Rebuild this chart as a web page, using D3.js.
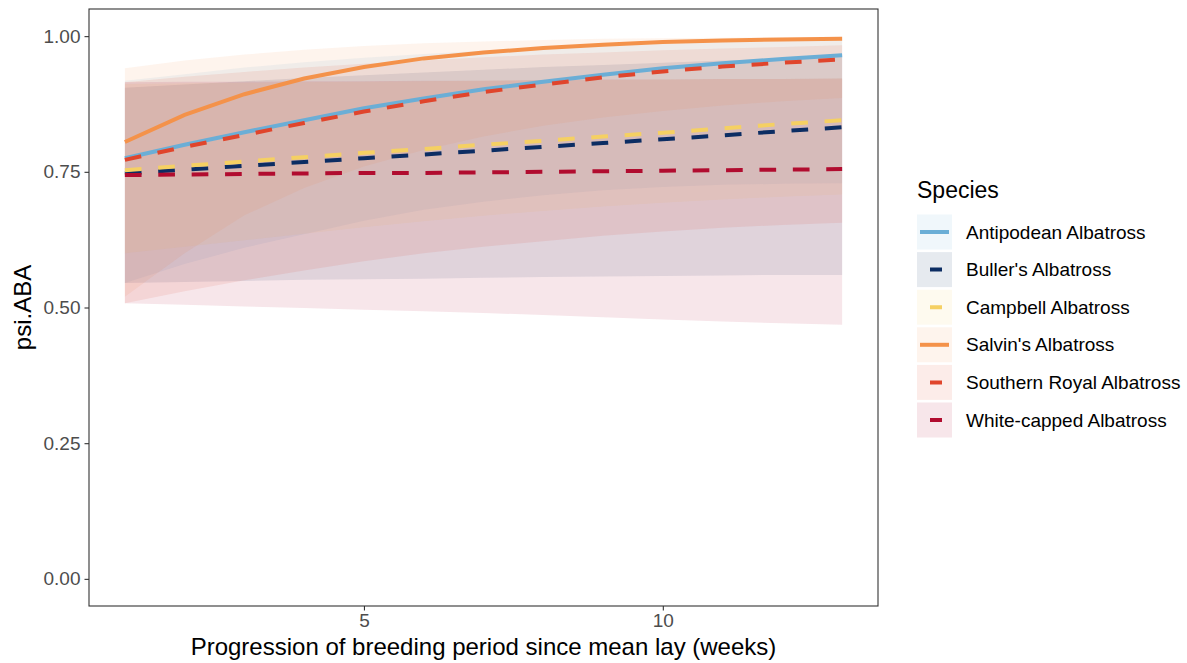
<!DOCTYPE html>
<html>
<head>
<meta charset="utf-8">
<script src="https://d3js.org/d3.v7.min.js"></script>
<style>
  body { margin: 0; background: #fff; }
  text { font-family: "Liberation Sans", Arial, sans-serif; }
  .axis path { display: none; }
  .axis line { stroke: #333; stroke-width: 1.1; }
  .axis text { fill: #4d4d4d; font-size: 19px; }
</style>
</head>
<body>
<div id="chart"></div>
<script>
const width = 1187, height = 663;
const panel = {left: 89, right: 878, top: 9, bottom: 606};

// weeks since mean lay
const weeks = [1, 2, 3, 4, 5, 6, 7, 8, 9, 10, 11, 12, 13];
const species = ["Antipodean Albatross", "Buller's Albatross", "Campbell Albatross",
                 "Salvin's Albatross", "Southern Royal Albatross", "White-capped Albatross"];
const colours = ["#6baed6", "#0c2d63", "#f5d063", "#f4924a", "#e0452c", "#b10c2f"];
const dashed = [false, true, true, false, true, true];

// fitted psi.ABA per species
const antipodeanFit = [0.775, 0.800, 0.823, 0.845, 0.867, 0.885, 0.902, 0.916, 0.929, 0.941, 0.950, 0.958, 0.965];
const bullersFit    = [0.747, 0.754, 0.761, 0.768, 0.775, 0.782, 0.789, 0.796, 0.803, 0.810, 0.817, 0.825, 0.832];
const campbellFit   = [0.753, 0.761, 0.769, 0.777, 0.785, 0.792, 0.800, 0.807, 0.815, 0.822, 0.830, 0.838, 0.845];
const salvinsFit    = [0.805, 0.855, 0.893, 0.922, 0.943, 0.959, 0.970, 0.978, 0.984, 0.989, 0.992, 0.994, 0.995];
const sRoyalFit     = [0.772, 0.796, 0.818, 0.840, 0.861, 0.880, 0.897, 0.911, 0.924, 0.935, 0.944, 0.951, 0.957];
const wCappedFit    = [0.744, 0.745, 0.746, 0.747, 0.748, 0.748, 0.749, 0.750, 0.751, 0.752, 0.753, 0.754, 0.755];

// lower / upper confidence bounds
const antipodeanLo = [0.545, 0.580, 0.610, 0.635, 0.660, 0.680, 0.695, 0.707, 0.716, 0.722, 0.726, 0.728, 0.729];
const antipodeanHi = [0.918, 0.930, 0.942, 0.952, 0.960, 0.967, 0.973, 0.978, 0.982, 0.986, 0.989, 0.991, 0.993];
const bullersLo    = [0.545, 0.547, 0.549, 0.551, 0.552, 0.553, 0.555, 0.556, 0.557, 0.558, 0.559, 0.560, 0.560];
const bullersHi    = [0.905, 0.911, 0.917, 0.923, 0.928, 0.933, 0.938, 0.943, 0.947, 0.951, 0.955, 0.958, 0.961];
const campbellLo   = [0.600, 0.612, 0.624, 0.636, 0.648, 0.659, 0.669, 0.678, 0.686, 0.693, 0.699, 0.704, 0.708];
const campbellHi   = [0.912, 0.913, 0.914, 0.915, 0.916, 0.917, 0.918, 0.919, 0.919, 0.920, 0.921, 0.921, 0.922];
const salvinsLo    = [0.520, 0.600, 0.670, 0.720, 0.760, 0.790, 0.815, 0.835, 0.850, 0.862, 0.872, 0.880, 0.886];
const salvinsHi    = [0.941, 0.955, 0.966, 0.975, 0.982, 0.987, 0.990, 0.993, 0.995, 0.996, 0.997, 0.998, 0.999];
const sRoyalLo     = [0.508, 0.530, 0.550, 0.568, 0.585, 0.600, 0.612, 0.622, 0.632, 0.640, 0.647, 0.652, 0.656];
const sRoyalHi     = [0.915, 0.925, 0.934, 0.942, 0.949, 0.955, 0.961, 0.966, 0.970, 0.974, 0.977, 0.980, 0.983];
const wCappedLo    = [0.508, 0.505, 0.502, 0.499, 0.496, 0.493, 0.490, 0.486, 0.482, 0.478, 0.474, 0.471, 0.468];
const wCappedHi    = [0.915, 0.916, 0.916, 0.917, 0.917, 0.918, 0.918, 0.919, 0.920, 0.920, 0.921, 0.921, 0.922];

const xTicks = [5, 10];
const yTicks = [0, 0.25, 0.5, 0.75, 1];

const fits = [antipodeanFit, bullersFit, campbellFit, salvinsFit, sRoyalFit, wCappedFit];
const lows = [antipodeanLo, bullersLo, campbellLo, salvinsLo, sRoyalLo, wCappedLo];
const highs = [antipodeanHi, bullersHi, campbellHi, salvinsHi, sRoyalHi, wCappedHi];

const svg = d3.select("#chart").append("svg")
    .attr("width", width)
    .attr("height", height);

const X_SCALE = d3.scaleLinear().domain([0.4, 13.6]).range([panel.left, panel.right]);
const Y_SCALE = d3.scaleLinear().domain([-0.05, 1.05]).range([panel.bottom, panel.top]);

// ribbons first, then lines on top
const area = d3.area()
    .x((d) => X_SCALE(d.x))
    .y0((d) => Y_SCALE(d.lo))
    .y1((d) => Y_SCALE(d.hi));

const line = d3.line()
    .x((d) => X_SCALE(d.x))
    .y((d) => Y_SCALE(d.y));

species.forEach((s, i) => {
    const rows = weeks.map((w, j) => ({x: w, lo: lows[i][j], hi: highs[i][j]}));
    svg.append("path")
        .attr("d", area(rows))
        .attr("fill", colours[i])
        .attr("fill-opacity", 0.1);
});

species.forEach((s, i) => {
    const rows = weeks.map((w, j) => ({x: w, y: fits[i][j]}));
    svg.append("path")
        .attr("d", line(rows))
        .attr("fill", "none")
        .attr("stroke", colours[i])
        .attr("stroke-width", 4)
        .attr("stroke-dasharray", dashed[i] ? "16.7,16.7" : null);
});

// panel border
svg.append("rect")
    .attr("x", panel.left)
    .attr("y", panel.top)
    .attr("width", panel.right - panel.left)
    .attr("height", panel.bottom - panel.top)
    .attr("fill", "none")
    .attr("stroke", "#333")
    .attr("stroke-width", 1.1);

// axes
svg.append("g")
    .attr("class", "axis")
    .attr("transform", "translate(0," + panel.bottom + ")")
    .call(d3.axisBottom(X_SCALE).tickValues(xTicks).tickSize(4.5).tickPadding(3).tickFormat(d3.format("d")));

svg.append("g")
    .attr("class", "axis")
    .attr("transform", "translate(" + panel.left + ",0)")
    .call(d3.axisLeft(Y_SCALE).tickValues(yTicks).tickSize(4.5).tickPadding(4).tickFormat(d3.format(".2f")));

// axis titles
svg.append("text")
    .attr("x", (panel.left + panel.right) / 2)
    .attr("y", 655)
    .attr("text-anchor", "middle")
    .attr("font-size", "24px")
    .attr("fill", "#000")
    .text("Progression of breeding period since mean lay (weeks)");

svg.append("text")
    .attr("transform", "translate(31," + ((panel.top + panel.bottom) / 2) + ") rotate(-90)")
    .attr("text-anchor", "middle")
    .attr("font-size", "24px")
    .attr("fill", "#000")
    .text("psi.ABA");

// legend
const legend = svg.append("g").attr("transform", "translate(917,0)");
legend.append("text")
    .attr("x", 0)
    .attr("y", 198)
    .attr("font-size", "23px")
    .text("Species");

species.forEach((s, i) => {
    const cy = 232 + i * 37.6;
    legend.append("rect")
        .attr("x", 0)
        .attr("y", cy - 17.5)
        .attr("width", 35)
        .attr("height", 35)
        .attr("fill", colours[i])
        .attr("fill-opacity", 0.1);
    legend.append("line")
        .attr("x1", 3)
        .attr("x2", 32)
        .attr("y1", cy)
        .attr("y2", cy)
        .attr("stroke", colours[i])
        .attr("stroke-width", 4)
        .attr("stroke-dasharray", dashed[i] ? "0,10,12,10" : null);
    legend.append("text")
        .attr("x", 49)
        .attr("y", cy + 6.5)
        .attr("font-size", "19px")
        .attr("fill", "#000")
        .text(s);
});
</script>
</body>
</html>
